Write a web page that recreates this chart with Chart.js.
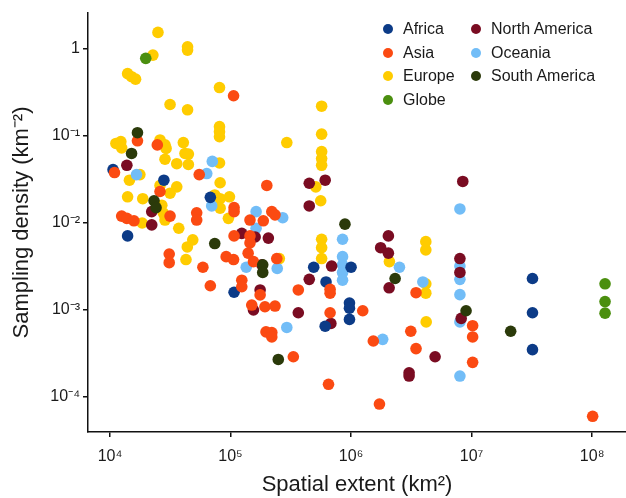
<!DOCTYPE html>
<html>
<head>
<meta charset="utf-8">
<script src="https://cdn.jsdelivr.net/npm/chart.js@4.4.1/dist/chart.umd.min.js"></script>
<style>
  html, body { margin: 0; padding: 0; background: #fff; }
  #wrap { position: relative; width: 626px; height: 498px; }
  #legend { position: absolute; left: 0; top: 0; font-family: "Liberation Sans", Arial, Helvetica, sans-serif; font-size: 16px; color: #1a1a1a; }
  .item { position: absolute; display: flex; align-items: center; height: 24px; white-space: nowrap; }
  .dot { width: 10px; height: 10px; border-radius: 50%; margin-right: 10px; }
</style>
</head>
<body>
<div id="wrap">
  <canvas id="scatterChart" width="626" height="498"></canvas>
  <div id="legend"></div>
</div>
<script>
    "use strict";

    var categories = ['Africa', 'Asia', 'Europe', 'Globe', 'North America', 'Oceania', 'South America'];
    var colours = ['#0c3b87', '#fb4a12', '#ffcc00', '#4b8f0f', '#7a0c22', '#72bdf7', '#2b3a0a'];

    // spatial extent (km2) and sampling density (km-2), one pair of arrays per region
    var africaX = [2.8e4, 1.06e4, 1.4e4, 6.8e4, 1.07e5, 4.9e5, 1.0e6, 6.2e5, 9.7e5, 9.7e5, 9.7e5, 6.1e5, 3.2e7, 3.2e7, 3.2e7];
    var africaY = [0.031, 0.041, 0.0071, 0.0197, 0.0016, 0.0031, 0.0031, 0.0021, 0.0012, 0.00105, 0.00078, 0.00065, 0.0023, 0.00093, 0.00035];

    var asiaX = [1.06e5, 1.69e4, 2.47e4, 1.09e4, 5.5e4, 2.0e5, 2.6e4, 1.07e5, 1.07e5, 5.24e4, 5.24e4, 1.25e4, 1.38e4, 1.58e4,
        3.15e4, 3.1e4, 3.1e4, 5.9e4, 9.2e4, 1.06e5, 1.45e5, 1.87e5, 2.2e5, 2.34e5, 1.07e5, 1.45e5, 1.45e5, 1.4e5, 1.55e5,
        2.42e5, 1.24e5, 1.24e5, 6.8e4, 1.76e5, 1.5e5, 1.93e5, 2.34e5, 3.65e5, 6.7e5, 6.7e5, 1.25e6, 6.7e5, 1.97e5, 2.2e5,
        2.2e5, 3.32e5, 6.5e5, 1.53e6, 3.13e6, 3.46e6, 1.02e7, 1.02e7, 1.02e7, 1.72e6, 1.01e8, 3.46e6];
    var asiaY = [0.29, 0.088, 0.079, 0.038, 0.036, 0.027, 0.023, 0.015, 0.0135, 0.0131, 0.0108, 0.012, 0.0113, 0.0106,
        0.012, 0.0044, 0.0035, 0.0031, 0.0041, 0.0038, 0.0108, 0.0106, 0.0135, 0.0124, 0.0071, 0.0071, 0.0059, 0.0045, 0.0036,
        0.0039, 0.0022, 0.00185, 0.0019, 0.00149, 0.00114, 0.00109, 0.00111, 0.0017, 0.00173, 0.00156, 0.00098, 0.00093, 0.00056, 0.00055,
        0.00049, 0.00029, 0.00014, 0.00044, 0.00057, 0.00036, 0.00066, 0.00049, 0.00025, 8.3e-5, 6.0e-5, 0.00158];

    var europeX = [2.5e4, 2.27e4, 4.4e4, 4.4e4, 1.4e4, 1.51e4, 1.63e4, 8.1e4, 3.15e4, 4.4e4, 8.1e4, 8.1e4, 8.1e4, 1.12e4,
        1.23e4, 1.25e4, 2.6e4, 2.86e4, 2.92e4, 4.06e4, 4.19e4, 4.47e4, 2.86e4, 3.58e4, 4.47e4, 8.1e4, 1.77e4, 1.45e4,
        2.6e4, 3.58e4, 3.15e4, 8.2e4, 1.4e4, 1.87e4, 2.69e4, 2.77e4, 2.86e4, 7.4e4, 8.2e4, 9.8e4, 8.2e4, 9.6e4, 1.85e4,
        3.72e4, 4.86e4, 4.38e4, 4.27e4, 2.54e5, 5.7e5, 5.7e5, 5.7e5, 5.7e5, 5.7e5, 2.93e5, 5.1e5, 5.6e5, 5.7e5, 5.7e5,
        5.7e5, 2.08e6, 4.17e6, 4.17e6, 4.17e6, 4.17e6, 4.2e6];
    var europeY = [1.55, 0.85, 1.06, 0.97, 0.52, 0.48, 0.45, 0.36, 0.23, 0.2, 0.128, 0.112, 0.098, 0.082,
        0.086, 0.073, 0.09, 0.079, 0.072, 0.084, 0.063, 0.062, 0.054, 0.048, 0.047, 0.049, 0.036, 0.031,
        0.027, 0.026, 0.022, 0.029, 0.02, 0.019, 0.016, 0.013, 0.0108, 0.021, 0.019, 0.02, 0.0148, 0.0113, 0.010,
        0.0087, 0.0064, 0.0053, 0.0038, 0.0039, 0.22, 0.105, 0.066, 0.055, 0.046, 0.084, 0.026, 0.018, 0.0065, 0.0052,
        0.0039, 0.0036, 0.0061, 0.0049, 0.002, 0.00156, 0.00073];

    var globeX = [1.98e4, 1.28e8, 1.28e8, 1.28e8];
    var globeY = [0.78, 0.002, 0.00125, 0.00092];

    var northAmericaX = [1.38e4, 2.22e4, 2.22e4, 1.24e5, 1.6e5, 2.06e5, 1.82e5, 1.76e5, 1.55e5, 4.5e5, 6.1e5, 4.5e5, 6.9e5,
        4.5e5, 3.65e5, 6.8e5, 2.04e6, 1.76e6, 2.04e6, 2.07e6, 8.45e6, 8.0e6, 8.0e6, 8.2e6, 4.98e6, 3.03e6, 3.03e6];
    var northAmericaY = [0.046, 0.0095, 0.0135, 0.0076, 0.0069, 0.0067, 0.0033, 0.0017, 0.001, 0.0286, 0.031, 0.0157, 0.0032,
        0.00225, 0.00093, 0.0007, 0.0071, 0.0052, 0.0045, 0.0018, 0.03, 0.0039, 0.0027, 0.0008, 0.00029, 0.00019, 0.000174];

    var oceaniaX = [1.66e4, 7.06e4, 6.35e4, 6.98e4, 1.63e5, 2.71e5, 1.63e5, 1.35e5, 2.44e5, 2.93e5, 8.5e5, 8.5e5, 8.5e5,
        8.5e5, 8.5e5, 2.52e6, 1.83e6, 3.94e6, 8.0e6, 8.0e6, 8.0e6, 8.0e6, 8.0e6, 8.0e6];
    var oceaniaY = [0.036, 0.051, 0.037, 0.0157, 0.0135, 0.0115, 0.0087, 0.0031, 0.003, 0.00063, 0.0065, 0.0041, 0.0033,
        0.0027, 0.0022, 0.0031, 0.00046, 0.0021, 0.0145, 0.0032, 0.00225, 0.0015, 0.00073, 0.000174];

    var southAmericaX = [1.69e4, 1.51e4, 2.32e4, 2.41e4, 7.4e4, 1.85e5, 1.85e5, 2.49e5, 8.9e5, 2.32e6, 9.0e6, 2.11e7];
    var southAmericaY = [0.109, 0.063, 0.018, 0.015, 0.0058, 0.0033, 0.0027, 0.00027, 0.0097, 0.0023, 0.00098, 0.00057];

    var xTickValues = [1e4, 1e5, 1e6, 1e7, 1e8];
    var xTickLabels = ['10\u2074', '10\u2075', '10\u2076', '10\u2077', '10\u2078'];
    var yTickValues = [1e-4, 1e-3, 1e-2, 1e-1, 1];
    var yTickLabels = ['10\u207B\u2074', '10\u207B\u00B3', '10\u207B\u00B2', '10\u207B\u00B9', '1'];

    var seriesX = [africaX, asiaX, europeX, globeX, northAmericaX, oceaniaX, southAmericaX];
    var seriesY = [africaY, asiaY, europeY, globeY, northAmericaY, oceaniaY, southAmericaY];
    // lower order is painted on top
    var drawOrder = [3, 2, 6, 0, 4, 5, 1];

    var FONT = '"Liberation Sans", Arial, Helvetica, sans-serif';
    var INK = '#1a1a1a';

    function toPoints(xs, ys) {
        return xs.map(function (x, i) { return {x: x, y: ys[i]}; });
    }

    function axisOptions(tickValues, tickLabels) {
        return {
            type: 'logarithmic',
            afterBuildTicks: function (scale) {
                scale.ticks = tickValues.map(function (v) { return {value: v}; });
            },
            grid: {display: true, drawOnChartArea: false, drawTicks: true, tickLength: 5, color: '#111', lineWidth: 1.5},
            border: {display: true, color: '#111', width: 1.5},
            ticks: {
                autoSkip: false,
                maxRotation: 0,
                color: INK,
                font: {family: FONT, size: 16},
                callback: function (value) {
                    var i = tickValues.indexOf(value);
                    return i < 0 ? '' : tickLabels[i];
                }
            }
        };
    }

    var xAxis = axisOptions(xTickValues, xTickLabels);
    xAxis.position = 'bottom';
    xAxis.min = 6570;
    xAxis.max = 1.91e8;
    xAxis.ticks.padding = 10;
    xAxis.afterFit = function (scale) {
        scale.height = 66;
        scale.paddingLeft = 0;
        scale.paddingRight = 0;
    };
    xAxis.title = {display: true, text: 'Spatial extent (km\u00B2)', color: INK,
        font: {family: FONT, size: 22}, padding: {top: 0, bottom: 0}};

    var yAxis = axisOptions(yTickValues, yTickLabels);
    yAxis.position = 'left';
    yAxis.min = 3.96e-5;
    yAxis.max = 2.59;
    yAxis.ticks.padding = 3;
    yAxis.afterFit = function (scale) {
        scale.width = 88;
        scale.paddingTop = 0;
        scale.paddingBottom = 0;
    };
    yAxis.title = {display: true, text: 'Sampling density (km\u207B\u00B2)', color: INK,
        font: {family: FONT, size: 22}, padding: {top: 9, bottom: 0}};

    var ctx = document.getElementById('scatterChart').getContext('2d');
    new Chart(ctx, {
        type: 'scatter',
        data: {
            datasets: categories.map(function (name, i) {
                return {
                    label: name,
                    data: toPoints(seriesX[i], seriesY[i]),
                    backgroundColor: colours[i],
                    borderWidth: 0,
                    pointRadius: 5.8,
                    pointHoverRadius: 5.8,
                    order: drawOrder[i]
                };
            })
        },
        options: {
            responsive: false,
            animation: false,
            layout: {autoPadding: false, padding: {top: 13, right: 0, bottom: 0, left: 0}},
            plugins: {
                legend: {display: false},
                tooltip: {enabled: false}
            },
            scales: {x: xAxis, y: yAxis}
        }
    });

    // two-column legend placed inside the plot, as in the figure
    var legendEl = document.getElementById('legend');
    var legendCols = [383, 471];
    var legendTop = 17;
    var legendStep = 23.5;
    categories.forEach(function (name, i) {
        var col = i < 4 ? 0 : 1;
        var row = i < 4 ? i : i - 4;
        var item = document.createElement('div');
        item.className = 'item';
        item.style.left = legendCols[col] + 'px';
        item.style.top = (legendTop + row * legendStep) + 'px';
        item.innerHTML = '<span class="dot" style="background:' + colours[i] + '"></span><span>' + name + '</span>';
        legendEl.appendChild(item);
    });
</script>
</body>
</html>
